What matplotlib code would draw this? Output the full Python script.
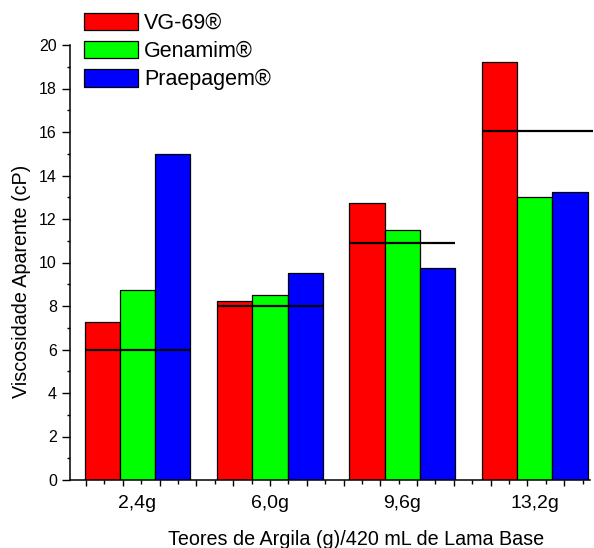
import numpy as np
import matplotlib
matplotlib.use("Agg")
import matplotlib.pyplot as plt
from matplotlib.ticker import MultipleLocator

plt.rcParams['font.family'] = ['Liberation Sans', 'DejaVu Sans']

# ---- data ----
categories = ["2,4g", "6,0g", "9,6g", "13,2g"]
clay_g = [2.4, 6.0, 9.6, 13.2]
series_names = ["VG-69®", "Genamim®", "Praepagem®"]
vg69 = [7.25, 8.25, 12.75, 19.2]
genamim = [8.75, 8.5, 11.5, 13.0]
praepagem = [15.0, 9.5, 9.75, 13.25]
reference = [6.0, 8.0, 10.9, 16.03]
colors = ["#ff0000", "#00ff00", "#0000ff"]

fig = plt.figure(figsize=(5.94, 5.48), dpi=100)
ax = fig.add_axes([70/594, 1-480/548, 520/594, 435/548])

x = np.array(clay_g)
group_w = 0.8 * 3.6
bw = group_w / 3
for i, (vals, name, col) in enumerate(zip([vg69, genamim, praepagem], series_names, colors)):
    ax.bar(x + (i - 1) * bw, vals, width=bw, color=col, edgecolor='black',
           linewidth=0.9, label=name, zorder=2)

left = x - group_w / 2
right = x + group_w / 2
right[-1] = 14.78
ax.hlines(reference, left, right, colors='black', linewidth=1.6, zorder=3, clip_on=False)

ax.set_xlim(0.565, 14.7)
ax.set_ylim(0, 20)

for s in ['top', 'right']:
    ax.spines[s].set_visible(False)
for s in ['left', 'bottom']:
    ax.spines[s].set_linewidth(1.1)

ax.yaxis.set_major_locator(MultipleLocator(2))
ax.yaxis.set_minor_locator(MultipleLocator(1))
ax.tick_params(axis='y', which='major', length=5.5, width=1.0, labelsize=11.5, pad=4)
ax.tick_params(axis='y', which='minor', length=2.5, width=1.0)

ax.xaxis.set_major_locator(MultipleLocator(1))
ax.xaxis.set_minor_locator(MultipleLocator(0.5))
ax.tick_params(axis='x', which='major', length=4.5, width=1.0, labelbottom=False)
ax.tick_params(axis='x', which='minor', length=3.0, width=1.0)

for xc, lab in zip(clay_g, categories):
    ax.annotate(lab, xy=(xc, 0), xycoords=('data', 'axes fraction'),
                xytext=(0, -10.5), textcoords='offset points',
                ha='center', va='top', fontsize=14)

fig.text(356/594, 1-545/548, "Teores de Argila (g)/420 mL de Lama Base",
         ha='center', va='baseline', fontsize=14.2)
fig.text(22/594, 1-281.5/548, "Viscosidade Aparente (cP)", rotation=90,
         ha='center', va='center', fontsize=14.2)

leg = ax.legend(loc='upper left', bbox_to_anchor=(84/594, 1-13/548),
                bbox_transform=fig.transFigure, frameon=False, fontsize=15.5,
                handlelength=2.5, handleheight=0.85, handletextpad=0.3,
                labelspacing=0.33, borderpad=0, borderaxespad=0)

fig.savefig("out.png", dpi=100)
